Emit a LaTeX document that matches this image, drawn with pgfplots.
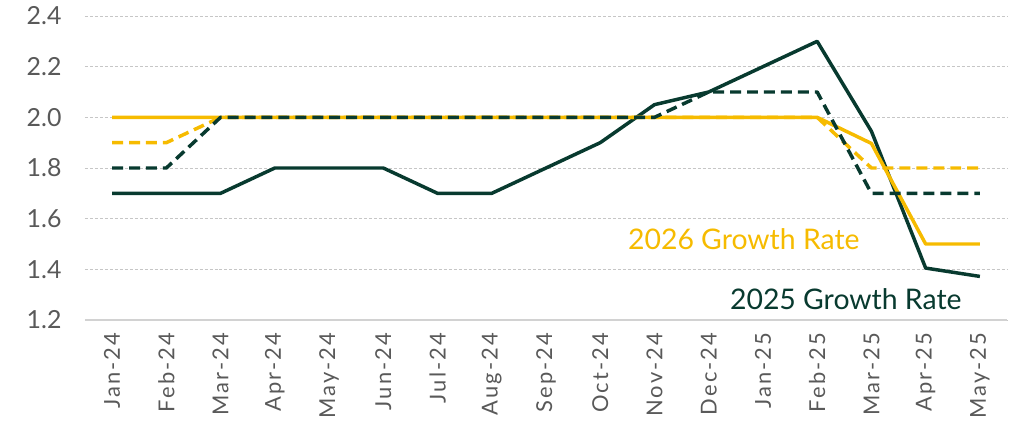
\documentclass[border=0pt]{standalone}
\usepackage{pgfplots}
\pgfplotsset{compat=1.18}
\usetikzlibrary{calc}
\usepackage{fontspec}
\setmainfont{Lato}
\definecolor{dk}{HTML}{083A2F}
\definecolor{yl}{HTML}{F6BB00}
\definecolor{tk}{HTML}{595959}
\begin{document}
\begin{tikzpicture}
\begin{axis}[name=ax,
  scale only axis, width=922bp, height=304bp,
  xmin=-0.5, xmax=16.5, ymin=1.2, ymax=2.4,
  axis line style={draw=none},
  axis x line*=bottom, axis y line*=left,
  xtick={0,...,16},
  xticklabels={Jan-24,Feb-24,Mar-24,Apr-24,May-24,Jun-24,Jul-24,Aug-24,Sep-24,Oct-24,Nov-24,Dec-24,Jan-25,Feb-25,Mar-25,Apr-25,May-25},
  x tick label style={rotate=90, anchor=east, font=\fontsize{22}{24}\selectfont\addfontfeatures{LetterSpace=10}, text=tk},
  xtick style={draw=none}, ytick style={draw=none},
  ytick={1.2,1.4,...,2.41},
  yticklabel style={/pgf/number format/fixed, /pgf/number format/fixed zerofill, /pgf/number format/precision=1, font=\fontsize{25}{27}\selectfont, text=tk},
  /pgf/number format/assume math mode=true,
  ymajorgrids, major grid style={densely dashed, gray!45, line width=0.8pt},
  xticklabel shift=9bp, yticklabel shift=20bp,
  clip=false,
]
\addplot[dk, line width=3.5pt, line join=round] coordinates {(0,1.7)(1,1.7)(2,1.7)(3,1.8)(4,1.8)(5,1.8)(6,1.7)(7,1.7)(8,1.8)(9,1.9)(10,2.05)(11,2.1)(12,2.2)(13,2.3)(14,1.945)(15,1.405)(16,1.372)};
\addplot[yl, line width=3.5pt, line join=round] coordinates {(0,2.0)(1,2.0)(2,2.0)(3,2.0)(4,2.0)(5,2.0)(6,2.0)(7,2.0)(8,2.0)(9,2.0)(10,2.0)(11,2.0)(12,2.0)(13,2.0)(14,1.897)(15,1.5)(16,1.5)};
\addplot[yl, line width=3.5pt, dash pattern=on 11pt off 6pt, line join=round] coordinates {(0,1.9)(1,1.9)(2,2.0)(3,2.0)(4,2.0)(5,2.0)(6,2.0)(7,2.0)(8,2.0)(9,2.0)(10,2.0)(11,2.0)(12,2.0)(13,2.0)(14,1.8)(15,1.8)(16,1.8)};
\addplot[dk, line width=3.5pt, dash pattern=on 11pt off 6pt, line join=round] coordinates {(0,1.8)(1,1.8)(2,2.0)(3,2.0)(4,2.0)(5,2.0)(6,2.0)(7,2.0)(8,2.0)(9,2.0)(10,2.0)(11,2.1)(12,2.1)(13,2.1)(14,1.7)(15,1.7)(16,1.7)};
\draw[gray!35, line width=1.5pt] (rel axis cs:0,0) -- (rel axis cs:1,0);
\node[anchor=west, text=yl, font=\fontsize{28.5}{30}\selectfont, inner sep=0pt] at (axis cs:9.51,1.519) {2026 Growth Rate};
\node[anchor=west, text=dk, font=\fontsize{28.5}{30}\selectfont, inner sep=0pt] at (axis cs:11.39,1.282) {2025 Growth Rate};
\end{axis}
\pgfresetboundingbox
\path[use as bounding box] ($(ax.south west)+(-85bp,-109bp)$) rectangle ($(ax.south west)+(932bp,320bp)$);
\end{tikzpicture}
\end{document}
